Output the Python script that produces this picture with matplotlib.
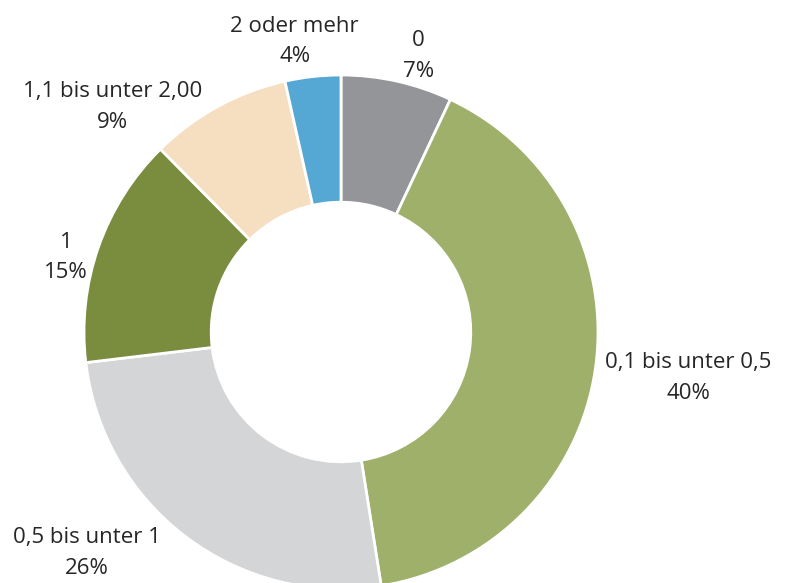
import matplotlib
matplotlib.use("Agg")
import matplotlib.pyplot as plt

# Data (clockwise from 12 o'clock)
categories = ["0", "0,1 bis unter 0,5", "0,5 bis unter 1", "1",
              "1,1 bis unter 2,00", "2 oder mehr"]
shares = [7.0, 40.5, 25.6, 14.5, 8.9, 3.5]
percent_labels = ["7%", "40%", "26%", "15%", "9%", "4%"]
colors = ["#939598", "#9fb06a", "#d4d5d7", "#7a8c3e", "#f6dfc1", "#56a8d4"]

# label anchor positions in units of the pie radius
label_pos = [(0.30, 1.075), (1.35, -0.18), (-0.99, -0.86),
             (-1.07, 0.29), (-0.89, 0.875), (-0.18, 1.13)]

fig = plt.figure(figsize=(7.88, 5.83), dpi=100)
ax = fig.add_axes([84 / 788, -6 / 583, 514 / 788, 514 / 583])

ax.pie(
    shares,
    colors=colors,
    startangle=90,
    counterclock=False,
    radius=1,
    wedgeprops=dict(width=0.495, edgecolor="white", linewidth=2),
)
ax.set_xlim(-1, 1)
ax.set_ylim(-1, 1)
ax.set_aspect("equal")
ax.axis("off")

for cat, pct, (x, y) in zip(categories, percent_labels, label_pos):
    ax.text(x, y, f"{cat}\n{pct}", ha="center", va="center",
            fontsize=16, color="#262626", family="Open Sans",
            linespacing=1.6)

fig.savefig("out.png", dpi=100)
